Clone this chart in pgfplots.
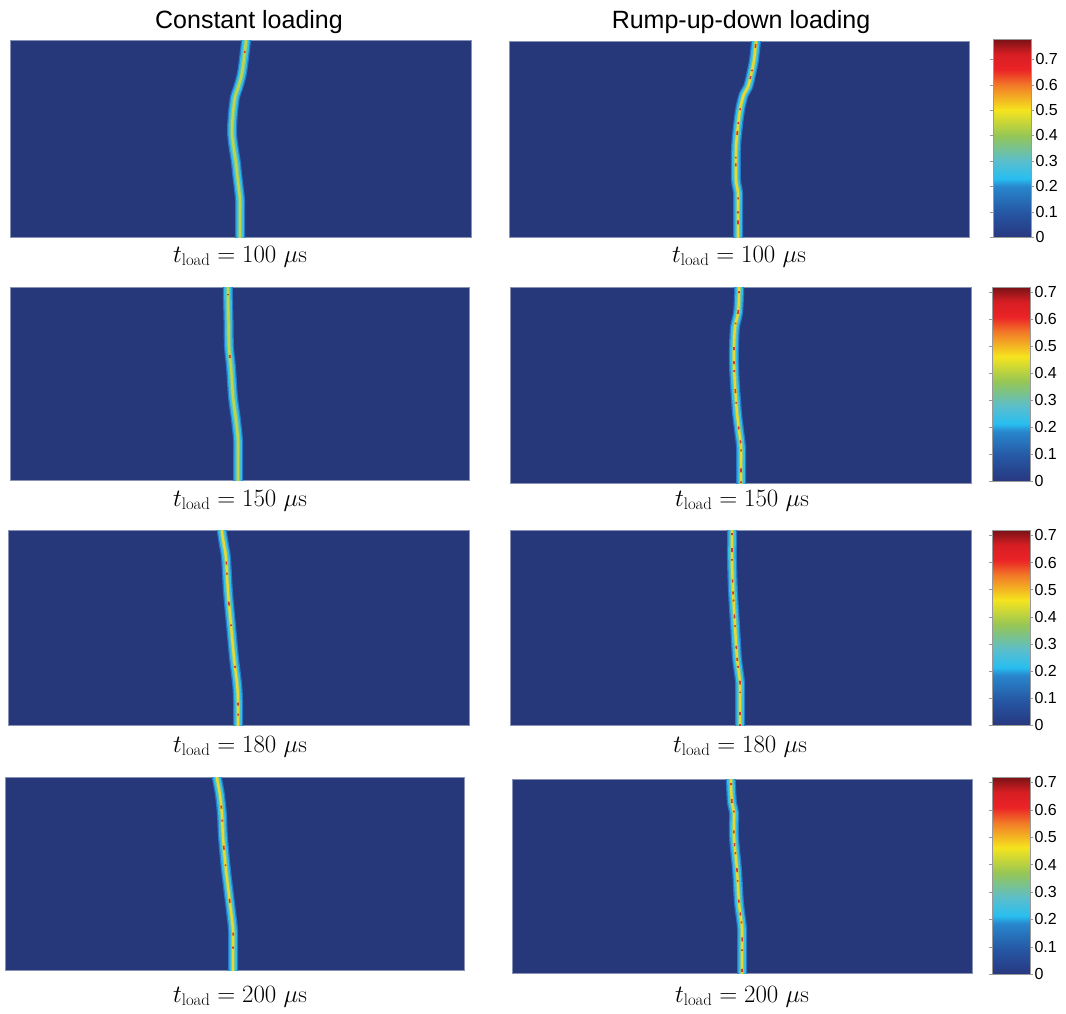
\documentclass[border=0pt]{standalone}
\usepackage{fontspec}
\usepackage{pgfplots}
\pgfplotsset{compat=1.18}
\newfontfamily\sansf{Liberation Sans}
\definecolor{panelblue}{RGB}{38,56,122}
\definecolor{cA}{RGB}{40,120,200}
\definecolor{cB}{RGB}{45,190,235}
\definecolor{cC}{RGB}{110,198,170}
\definecolor{cD}{RGB}{195,212,70}
\definecolor{cE}{RGB}{238,215,45}
\definecolor{cR}{RGB}{225,50,35}

\pgfplotsset{
 colormap={mymap}{rgb255(0cm)=(40,55,128) rgb255(1cm)=(38,88,165) rgb255(2cm)=(40,135,205) rgb255(2.3cm)=(40,190,240) rgb255(3cm)=(90,190,205) rgb255(4cm)=(150,198,85) rgb255(5cm)=(245,228,30) rgb255(6cm)=(242,120,40) rgb255(6.6cm)=(235,35,38) rgb255(7.2cm)=(215,30,35) rgb255(7.8cm)=(120,18,22)},
 panel/.style={scale only axis, anchor=north west, xtick=\empty, ytick=\empty, y dir=reverse,
   axis background/.style={fill=panelblue}, axis line style={draw=panelblue!55!white, line width=0.5pt}},
 cbar/.style n args={4}{colormap name=mymap, point meta min=0, point meta max=#4, colorbar,
   colorbar/width=38pt, colorbar shift/.style={xshift=0pt},
   colorbar style={at={(parent axis.north east)}, anchor=north west, xshift=#1, yshift=#2,
     width=38pt, height=#3,
     ytick={0,0.1,0.2,0.3,0.4,0.5,0.6,0.7},
     yticklabel style={font=\sansf\fontsize{16}{16}\selectfont, /pgf/number format/fixed,
       /pgf/number format/precision=1, /pgf/number format/assume math mode=true, xshift=-2pt},
     axis line style={draw=gray!80, line width=0.5pt}, tick style={draw=gray!80},
     major tick length=3pt, tick align=outside}},
}

% #1 centre colour, #2 red dash pattern, #3 coordinates
\newcommand\crack[3]{%
 \addplot[smooth, line width=10pt, cA] coordinates {#3};
 \addplot[smooth, line width=7.5pt, cB] coordinates {#3};
 \addplot[smooth, line width=4.5pt, cC] coordinates {#3};
 \addplot[smooth, line width=2.4pt, #1] coordinates {#3};
 \addplot[smooth, line width=1.6pt, cR, dash pattern=#2] coordinates {#3};
}

\begin{document}
\begin{tikzpicture}
\useasboundingbox (0pt,0pt) rectangle (1066pt,-1013pt);

% ---------- row 1 ----------
\begin{axis}[panel, at={(10pt,-40pt)}, width=461pt, height=197pt, xmin=10, xmax=471, ymin=40, ymax=237]
\crack{cD}{on 3pt off 14pt on 2pt off 200pt}{(246,34) (246,40) (245,50) (242,73) (238,88) (235,97) (233,113) (232,130) (233,143) (236,163) (237,173) (239,190) (240,200) (240,220) (240,242)}
\end{axis}
\begin{axis}[panel, at={(509pt,-41pt)}, width=460pt, height=196pt, xmin=509, xmax=969, ymin=41, ymax=237,
  cbar={24pt}{2pt}{198pt}{0.78}]
\crack{cE}{on 2pt off 7pt on 4pt off 22pt on 1.5pt off 5pt on 3pt off 31pt on 2pt off 12pt}{(756,35) (756,41) (754,60) (751,75) (748,87) (744,94) (741,105) (739,117) (737,135) (736,150) (736,180) (738,192) (738,210) (738,242)}
\end{axis}

% ---------- row 2 ----------
\begin{axis}[panel, at={(10pt,-287pt)}, width=459pt, height=193pt, xmin=10, xmax=469, ymin=287, ymax=480]
\crack{cD}{on 2pt off 10pt on 1pt off 60pt on 3pt off 200pt}{(228,282) (228,300) (228.5,320) (229,347) (231,367) (233,397) (236,420) (238,440) (238,460) (238,485)}
\end{axis}
\begin{axis}[panel, at={(510pt,-287pt)}, width=461pt, height=196pt, xmin=510, xmax=971, ymin=287, ymax=483,
  cbar={21pt}{0pt}{194pt}{0.72}]
\crack{cE}{on 3pt off 6pt on 2pt off 17pt on 4pt off 9pt on 1.5pt off 23pt on 3pt off 11pt}{(739,282) (739,295) (738,313) (735,327) (734,347) (734,365) (735,385) (737,413) (739,430) (741,447) (741,465) (741,488)}
\end{axis}

% ---------- row 3 ----------
\begin{axis}[panel, at={(8pt,-530pt)}, width=461pt, height=195pt, xmin=8, xmax=469, ymin=530, ymax=725]
\crack{cE}{on 2pt off 35pt on 3pt off 8pt on 2pt off 27pt on 4pt off 19pt on 1.5pt off 40pt}{(222,525) (222,532) (224,545) (226,558) (228,592) (231,625) (234,658) (237,683) (238,700) (238,730)}
\end{axis}
\begin{axis}[panel, at={(510pt,-530pt)}, width=461pt, height=195pt, xmin=510, xmax=971, ymin=530, ymax=725,
  cbar={21pt}{0pt}{195pt}{0.72}]
\crack{cE}{on 3pt off 5pt on 2pt off 13pt on 4pt off 7pt on 1.5pt off 19pt on 3pt off 9pt}{(732,525) (732,545) (732,560) (733,592) (735,625) (737,658) (740,682) (740,700) (740,730)}
\end{axis}

% ---------- row 4 ----------
\begin{axis}[panel, at={(5pt,-777pt)}, width=459pt, height=193pt, xmin=5, xmax=464, ymin=777, ymax=970]
\crack{cE}{on 4pt off 30pt on 3pt off 11pt on 2pt off 24pt on 4pt off 15pt on 1.5pt off 33pt}{(217,772) (217,778) (220,795) (222,815) (223,837) (226,870) (230,903) (233,930) (233,950) (233,975)}
\end{axis}
\begin{axis}[panel, at={(512pt,-779pt)}, width=460pt, height=194pt, xmin=512, xmax=972, ymin=779, ymax=973,
  cbar={20pt}{2pt}{197pt}{0.72}]
\crack{cE}{on 3pt off 6pt on 2pt off 14pt on 4pt off 8pt on 1.5pt off 18pt on 3pt off 10pt}{(731,774) (731,785) (732,803) (734,812) (734,837) (737,870) (739,903) (742,928) (742,950) (742,978)}
\end{axis}

% ---------- titles and labels ----------
\node[anchor=base, font=\sansf\fontsize{25}{30}\selectfont] at (249pt,-28pt) {Constant loading};
\node[anchor=base, font=\sansf\fontsize{25}{30}\selectfont] at (741pt,-28pt) {Rump-up-down loading};

\begin{scope}[every node/.style={anchor=base, font=\fontsize{24}{29}\selectfont}]
\node at (240pt,-262pt) {$t_{\mathrm{load}} = 100\ \mu$s};
\node at (739pt,-262pt) {$t_{\mathrm{load}} = 100\ \mu$s};
\node at (240pt,-506pt) {$t_{\mathrm{load}} = 150\ \mu$s};
\node at (742pt,-506pt) {$t_{\mathrm{load}} = 150\ \mu$s};
\node at (240pt,-752pt) {$t_{\mathrm{load}} = 180\ \mu$s};
\node at (740pt,-752pt) {$t_{\mathrm{load}} = 180\ \mu$s};
\node at (240pt,-1002pt) {$t_{\mathrm{load}} = 200\ \mu$s};
\node at (742pt,-1002pt) {$t_{\mathrm{load}} = 200\ \mu$s};
\end{scope}
\end{tikzpicture}
\end{document}
